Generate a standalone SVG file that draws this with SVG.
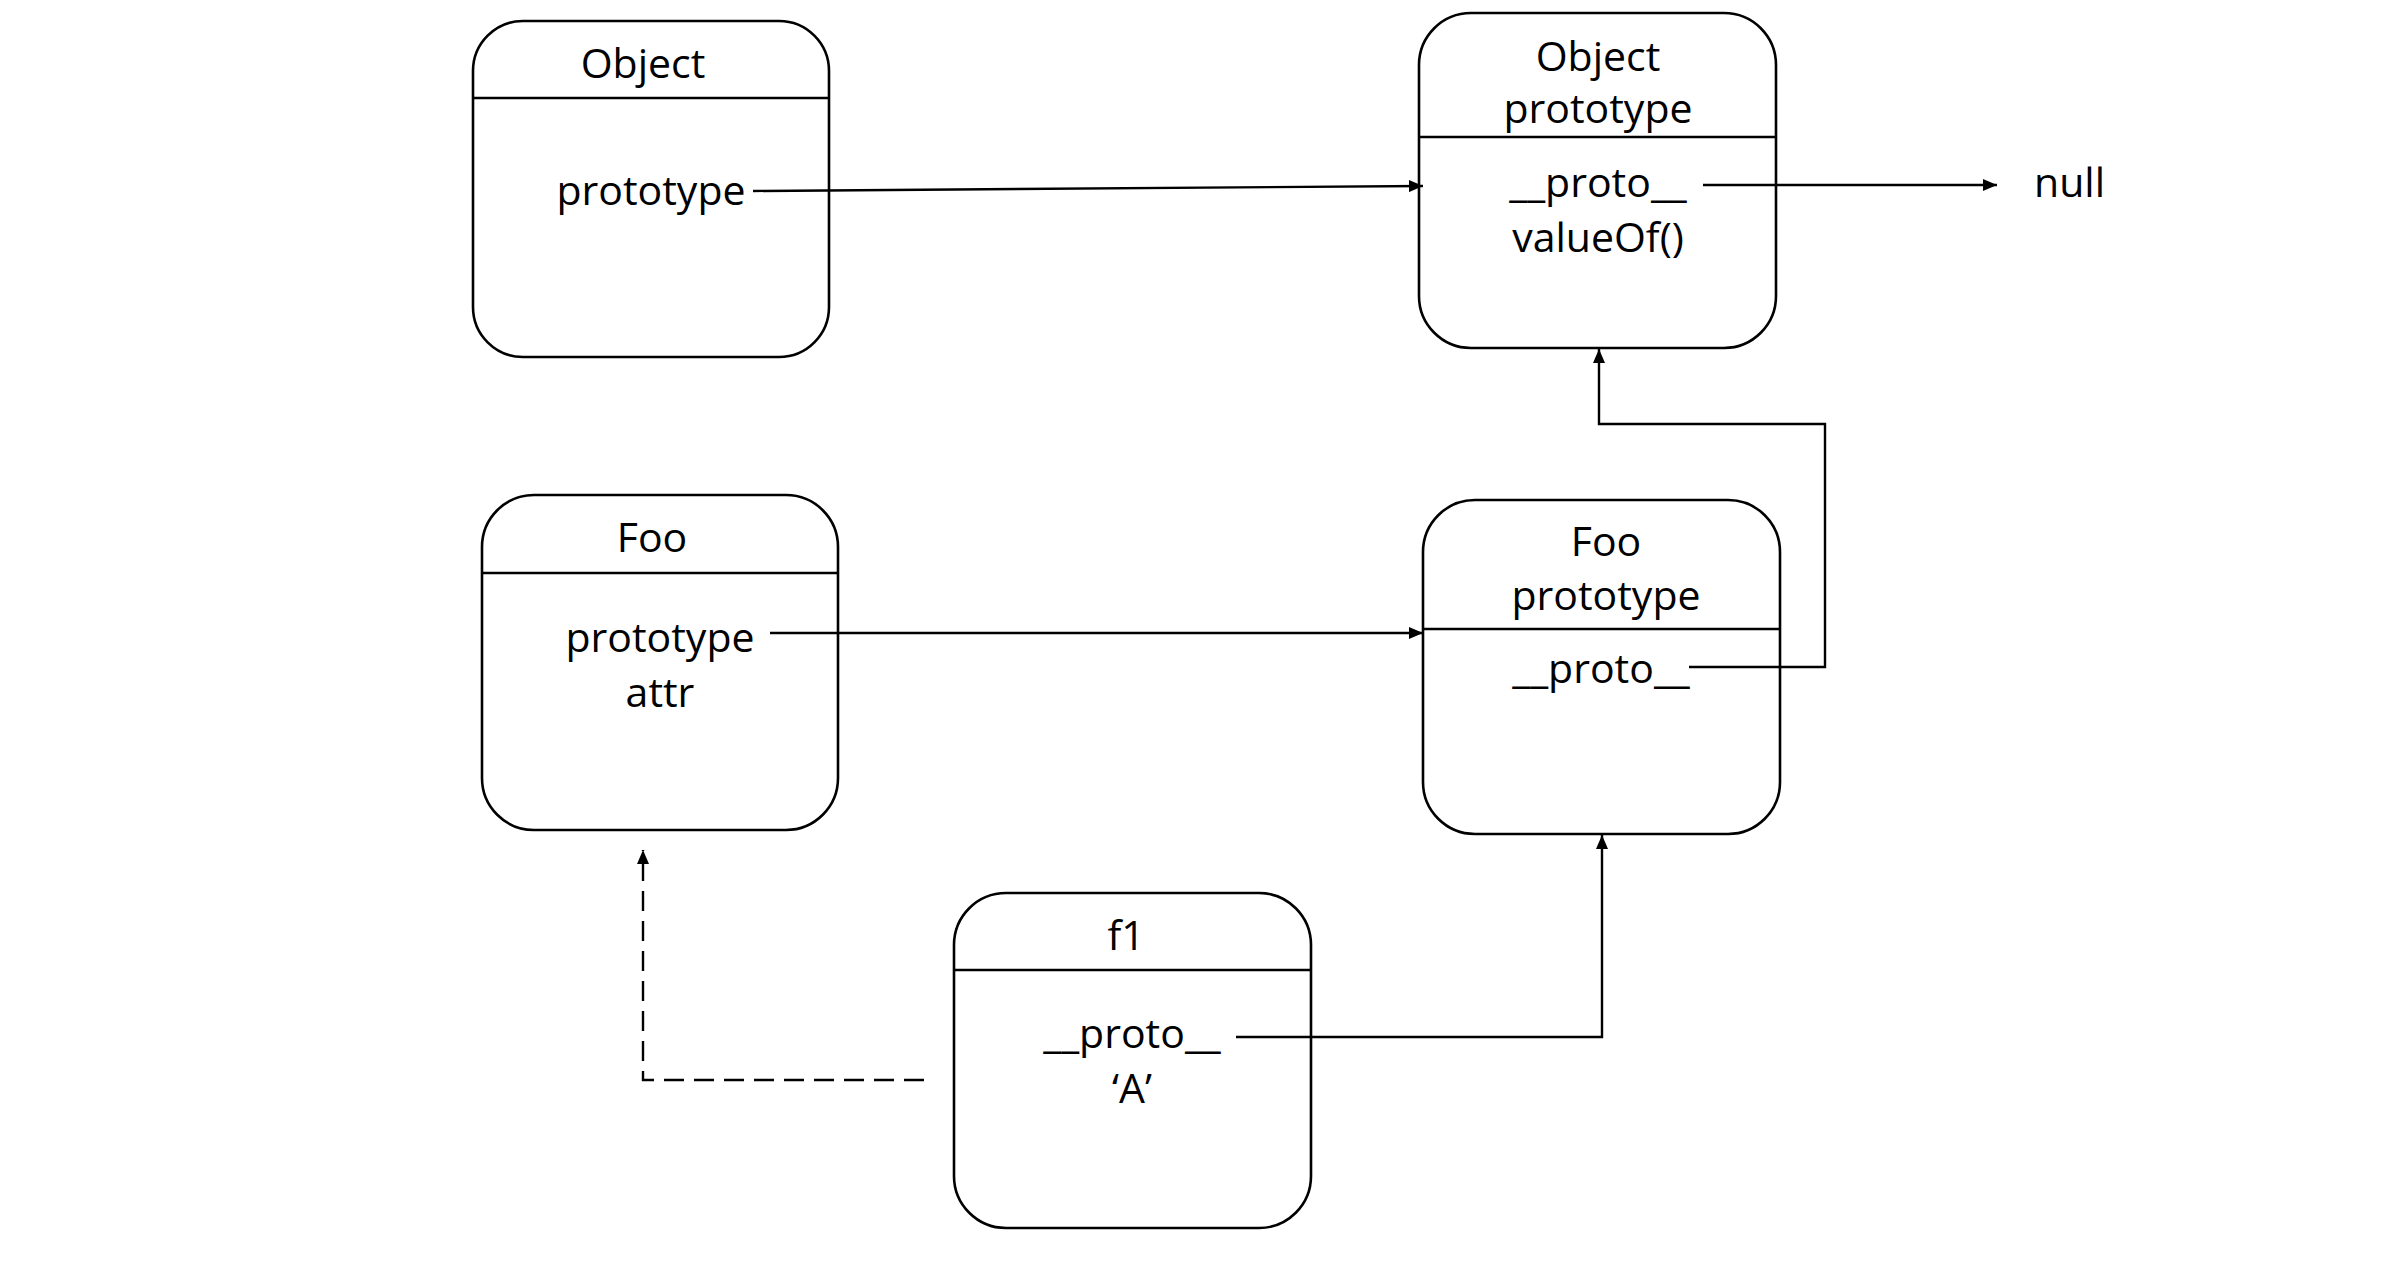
<svg xmlns="http://www.w3.org/2000/svg" width="2408" height="1264" viewBox="0 0 2408 1264">
<style>
.box{fill:#fff;stroke:#000;stroke-width:2.6}
.div{stroke:#000;stroke-width:2.6}
.t{font-family:"Open Sans","Noto Sans",sans-serif;font-size:41px;fill:#000;text-anchor:middle}
.c{fill:none;stroke:#000;stroke-width:2.4}
.d{stroke-dasharray:20 10}
</style>
<defs>
<marker id="ah" viewBox="0 0 14 12" refX="14" refY="6" markerWidth="14" markerHeight="12" markerUnits="userSpaceOnUse" orient="auto">
<path d="M0,0 L14,6 L0,12 z" fill="#000"/>
</marker>
</defs>
<rect width="2408" height="1264" fill="#fff"/>
<g id="node-object">
<rect class="box" x="473" y="21" width="356" height="336" rx="50" ry="50"/>
<line class="div" x1="473" y1="98" x2="829" y2="98"/>
<text class="t" x="643" y="78">Object</text>
<text class="t" x="651" y="205">prototype</text>
</g>
<g id="node-object-prototype">
<rect class="box" x="1419" y="13" width="357" height="335" rx="52" ry="52"/>
<line class="div" x1="1419" y1="137" x2="1776" y2="137"/>
<text class="t" x="1598" y="71">Object</text>
<text class="t" x="1598" y="123">prototype</text>
<text class="t" x="1598" y="197">__proto__</text>
<text class="t" x="1598" y="252">valueOf()</text>
</g>
<g id="node-null">
<text class="t" x="2034" y="197" style="text-anchor:start">null</text>
</g>
<g id="node-foo">
<rect class="box" x="482" y="495" width="356" height="335" rx="52" ry="52"/>
<line class="div" x1="482" y1="573" x2="838" y2="573"/>
<text class="t" x="652" y="552">Foo</text>
<text class="t" x="660" y="652">prototype</text>
<text class="t" x="660" y="707">attr</text>
</g>
<g id="node-foo-prototype">
<rect class="box" x="1423" y="500" width="357" height="334" rx="52" ry="52"/>
<line class="div" x1="1423" y1="629" x2="1780" y2="629"/>
<text class="t" x="1606" y="556">Foo</text>
<text class="t" x="1606" y="610">prototype</text>
<text class="t" x="1601" y="683">__proto__</text>
</g>
<g id="node-f1">
<rect class="box" x="954" y="893" width="357" height="335" rx="52" ry="52"/>
<line class="div" x1="954" y1="970" x2="1311" y2="970"/>
<text class="t" x="1126" y="950">f1</text>
<text class="t" x="1132" y="1048">__proto__</text>
<text class="t" x="1132" y="1103">‘A’</text>
</g>
<g id="connectors">
<path class="c" d="M753,191 L1423,186" marker-end="url(#ah)"/>
<path class="c" d="M1703,185 H1997" marker-end="url(#ah)"/>
<path class="c" d="M770,633 H1423" marker-end="url(#ah)"/>
<path class="c" d="M1689,667 H1825 V424 H1599 V349" marker-end="url(#ah)"/>
<path class="c" d="M1236,1037 H1602 V835" marker-end="url(#ah)"/>
<path class="c d" d="M924,1080 H643 V850" marker-end="url(#ah)"/>
</g>
</svg>
